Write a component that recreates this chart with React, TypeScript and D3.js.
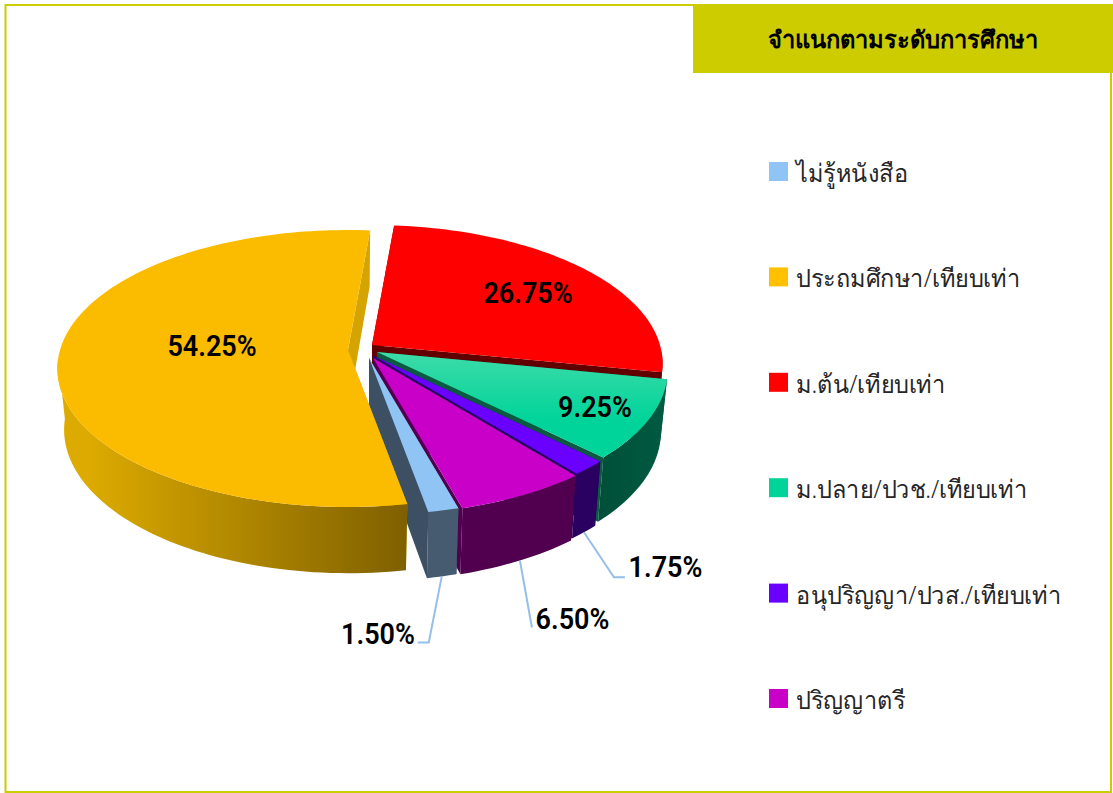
import { useEffect, useRef } from "react";
import * as d3 from "d3";

const W = 1113;
const H = 793;

const categories = [
  "ไม่รู้หนังสือ",
  "ประถมศึกษา/เทียบเท่า",
  "ม.ต้น/เทียบเท่า",
  "ม.ปลาย/ปวช./เทียบเท่า",
  "อนุปริญญา/ปวส./เทียบเท่า",
  "ปริญญาตรี",
];
const values = [1.5, 54.25, 26.75, 9.25, 1.75, 6.5];
const valueLabels = ["1.50%", "54.25%", "26.75%", "9.25%", "1.75%", "6.50%"];
const topColors = ["#90c4f5", "#fbbc00", "#ff0000", "url(#greenTop)", "#6a00ff", "#c800c8"];
const legendColors = ["#90c4f5", "#ffc000", "#ff0000", "#00d49a", "#6a00ff", "#c800c8"];
const wallColors = ["#465a70", "url(#yellowWall)", "#600000", "url(#greenWall)", "#2a0060", "#50004f"];
const edgeColors = ["#3c4f63", "#d6a400", "#600000", "#0a5a42", "#2a0060", "#50004f"];
// small nudges of each exploded slice away from the pie centre
const sliceShift = [[-3, 6], [-24, -2], [0, -7], [5, 0], [2, 4], [1, 6]];
// back to front, yellow last because it hides the light blue edge
const drawOrder = [2, 3, 4, 5, 0, 1];

const cx = 372;
const cy = 352;
const radiusX = 288;
const radiusY = 136;
const persp = 0.1336;
const depth = 60.5;
const shrink = 0.023;

const deg = Math.PI / 180;

const project = (i: number, angle: number, r: number, z: number): [number, number] => {
  const X = Math.sin(angle) * r;
  const Y = -Math.cos(angle) * r;
  const s = 1 / (1 - persp * Y);
  const k = 1 - shrink * z;
  return [
    cx + sliceShift[i][0] + radiusX * X * s * k,
    cy + sliceShift[i][1] + radiusY * Y * s * k + depth * z * s,
  ];
};

const App = () => {
  const ref = useRef<SVGSVGElement>(null);

  useEffect(() => {
    const svg = d3.select(ref.current);
    svg.selectAll("*").remove();

    const defs = svg.append("defs");
    const grad = (id: string, x1: number, y1: number, x2: number, y2: number, stops: string[]) => {
      const g = defs.append("linearGradient").attr("id", id).attr("gradientUnits", "userSpaceOnUse")
        .attr("x1", x1).attr("y1", y1).attr("x2", x2).attr("y2", y2);
      stops.forEach((c, i) => g.append("stop").attr("offset", i / (stops.length - 1)).attr("stop-color", c));
    };
    grad("yellowWall", 90, 0, 407, 0, ["#dcaa00", "#7f6000"]);
    grad("greenWall", 570, 0, 665, 0, ["#004a35", "#005a41"]);
    grad("greenTop", 0, 353, 0, 420, ["#3ddba8", "#00d49a"]);

    const pie = d3.pie<number>().sort(null).startAngle(164.3 * deg).endAngle(524.3 * deg);
    const arcs = pie(values);
    const line = d3.line();

    // frame
    svg.append("rect").attr("x", 5.5).attr("y", 5).attr("width", 1105.5).attr("height", 787)
      .attr("fill", "#fff").attr("stroke", "#cccc00").attr("stroke-width", 2);

    const g = svg.append("g");
    drawOrder.forEach((i) => {
      const a = arcs[i];
      const steps = Math.max(4, Math.ceil((a.endAngle - a.startAngle) / (1.5 * deg)));
      const angles = d3.range(steps + 1).map((t) => a.startAngle + ((a.endAngle - a.startAngle) * t) / steps);
      const radial = (t: number) => [
        project(i, t, 0, 0), project(i, t, 1, 0), project(i, t, 1, 1), project(i, t, 0, 1),
      ] as [number, number][];

      g.append("path").attr("d", line(radial(a.startAngle)) + "Z").attr("fill", edgeColors[i]);
      g.append("path").attr("d", line(radial(a.endAngle)) + "Z").attr("fill", edgeColors[i]);

      // outer wall swept one small step at a time, front half only
      const wall = d3.pairs(angles)
        .filter(([t0, t1]) => -Math.cos((t0 + t1) / 2) > 0.05)
        .map(([t0, t1]) => line([
          project(i, t0, 1, 0), project(i, t1, 1, 0), project(i, t1, 1, 1), project(i, t0, 1, 1),
        ]) + "Z")
        .join("");
      g.append("path").attr("d", wall).attr("fill", wallColors[i]);

      g.append("path")
        .attr("d", line([project(i, 0, 0, 0), ...angles.map((t) => project(i, t, 1, 0))]) + "Z")
        .attr("fill", topColors[i]);
    });

    // leader lines for the thin slices
    const leaders: [number, [number, number][]][] = [
      [0, [[-13, 66], [-24, 66]]],
      [5, [[12, 67]]],
      [4, [[30, 45], [41, 45]]],
    ];
    leaders.forEach(([i, bends]) => {
      const a = arcs[i];
      const start = project(i, (a.startAngle + a.endAngle) / 2, 1, 1);
      const pts: [number, number][] = [start, ...bends.map(([dx, dy]) => [start[0] + dx, start[1] + dy] as [number, number])];
      g.append("path").attr("d", line(pts)).attr("fill", "none").attr("stroke", "#95bfe8").attr("stroke-width", 2);
    });

    // value labels, narrowed to look like the condensed original
    const labelPos = [[378, 633], [212, 345], [528, 292], [595, 406], [665.5, 566], [572.5, 618]];
    valueLabels.forEach((t, i) => {
      g.append("text").attr("transform", `translate(${labelPos[i][0]},${labelPos[i][1]}) scale(0.9,1)`)
        .attr("dy", "0.36em")
        .attr("text-anchor", "middle").attr("font-family", "Roboto, sans-serif").attr("font-weight", 600)
        .attr("font-size", 30).attr("fill", "#000").text(t);
    });

    // title box
    svg.append("rect").attr("x", 693).attr("y", 4).attr("width", 420).attr("height", 69).attr("fill", "#cccc00");
    svg.append("text").attr("x", 902.5).attr("y", 39).attr("dy", "0.36em").attr("text-anchor", "middle")
      .attr("font-family", "'Noto Sans', sans-serif").attr("font-weight", 700).attr("font-size", 23.7)
      .attr("fill", "#000").text("จำแนกตามระดับการศึกษา");

    // legend
    const legendY = d3.scalePoint<string>().domain(categories).range([171.5, 698.5]);
    const legend = svg.append("g");
    categories.forEach((c, i) => {
      const y = legendY(c) as number;
      legend.append("rect").attr("x", 769).attr("y", y - 9.5).attr("width", 19).attr("height", 19).attr("fill", legendColors[i]);
      legend.append("text").attr("transform", `translate(796,${y + 1.5}) scale(0.94,1)`).attr("dy", "0.36em")
        .attr("font-family", "'Noto Sans', sans-serif").attr("font-weight", 300).attr("font-size", 25)
        .attr("fill", "#262626").text(c);
    });
  }, []);

  return <svg ref={ref} width={W} height={H} style={{ position: "absolute", left: 0, top: 0, display: "block" }} />;
};

export default App;
